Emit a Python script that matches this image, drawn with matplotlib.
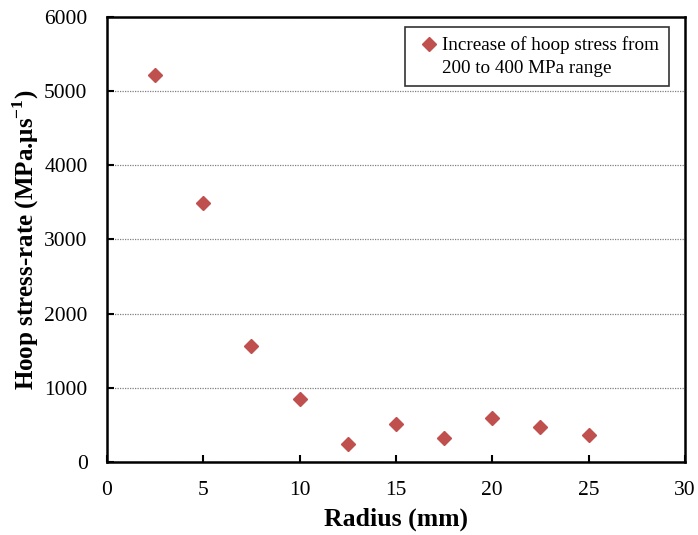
import matplotlib
matplotlib.use("Agg")
import matplotlib.pyplot as plt
from matplotlib.lines import Line2D

# Hoop stress-rate versus radius
radius = [2.5, 5.0, 7.5, 10.0, 12.5, 15.0, 17.5, 20.0, 22.5, 25.0]
stress_rate = [5220, 3495, 1565, 850, 245, 510, 320, 600, 470, 365]

x_ticks = [0, 5, 10, 15, 20, 25, 30]
y_ticks = [0, 1000, 2000, 3000, 4000, 5000, 6000]

legend_lines = ["Increase of hoop stress from", "200 to 400 MPa range"]

plt.rcParams["font.family"] = ["Liberation Serif", "DejaVu Serif"]
plt.rcParams["mathtext.fontset"] = "custom"
plt.rcParams["mathtext.rm"] = "Liberation Serif"
plt.rcParams["mathtext.bf"] = "Liberation Serif:bold"

fig = plt.figure(figsize=(6.98, 5.35), dpi=100)
ax = fig.add_axes([0.1533, 0.1364, 0.828, 0.832])

pts, = ax.plot(radius, stress_rate, "D", ms=7, color="#C0504D",
               mec="#C0504D", zorder=3)

ax.set_xlim(0, 30)
ax.set_ylim(0, 6000)
ax.set_xticks(x_ticks)
ax.set_yticks(y_ticks)
ax.yaxis.grid(True, ls=(0, (1, 1)), color="#808080", lw=0.9)
ax.set_axisbelow(True)

for s in ax.spines.values():
    s.set_linewidth(1.8)
ax.tick_params(direction="in", length=5, width=1.5, labelsize=15.5)
ax.tick_params(axis="x", pad=14)
ax.tick_params(axis="y", pad=14)

ax.set_xlabel("Radius (mm)", fontsize=18.5, fontweight="bold", labelpad=5)
ax.set_ylabel(r"Hoop stress-rate (MPa.$\mathbf{\mu}$s$^{\mathbf{-1}}$)",
              fontsize=18, fontweight="bold", labelpad=2)

# two-line legend entry: marker sits beside the first line only
blank = Line2D([], [], linestyle="none", marker=None)
leg = ax.legend([pts, blank], legend_lines, loc="upper right",
                bbox_to_anchor=(0.9723, 0.9775), borderaxespad=0,
                fontsize=13.8, frameon=True, fancybox=False,
                edgecolor="black", handletextpad=0.0, handlelength=1.45,
                borderpad=0.5, labelspacing=0.25, numpoints=1)
leg.get_frame().set_linewidth(1.2)

fig.savefig("out.png", dpi=100)
